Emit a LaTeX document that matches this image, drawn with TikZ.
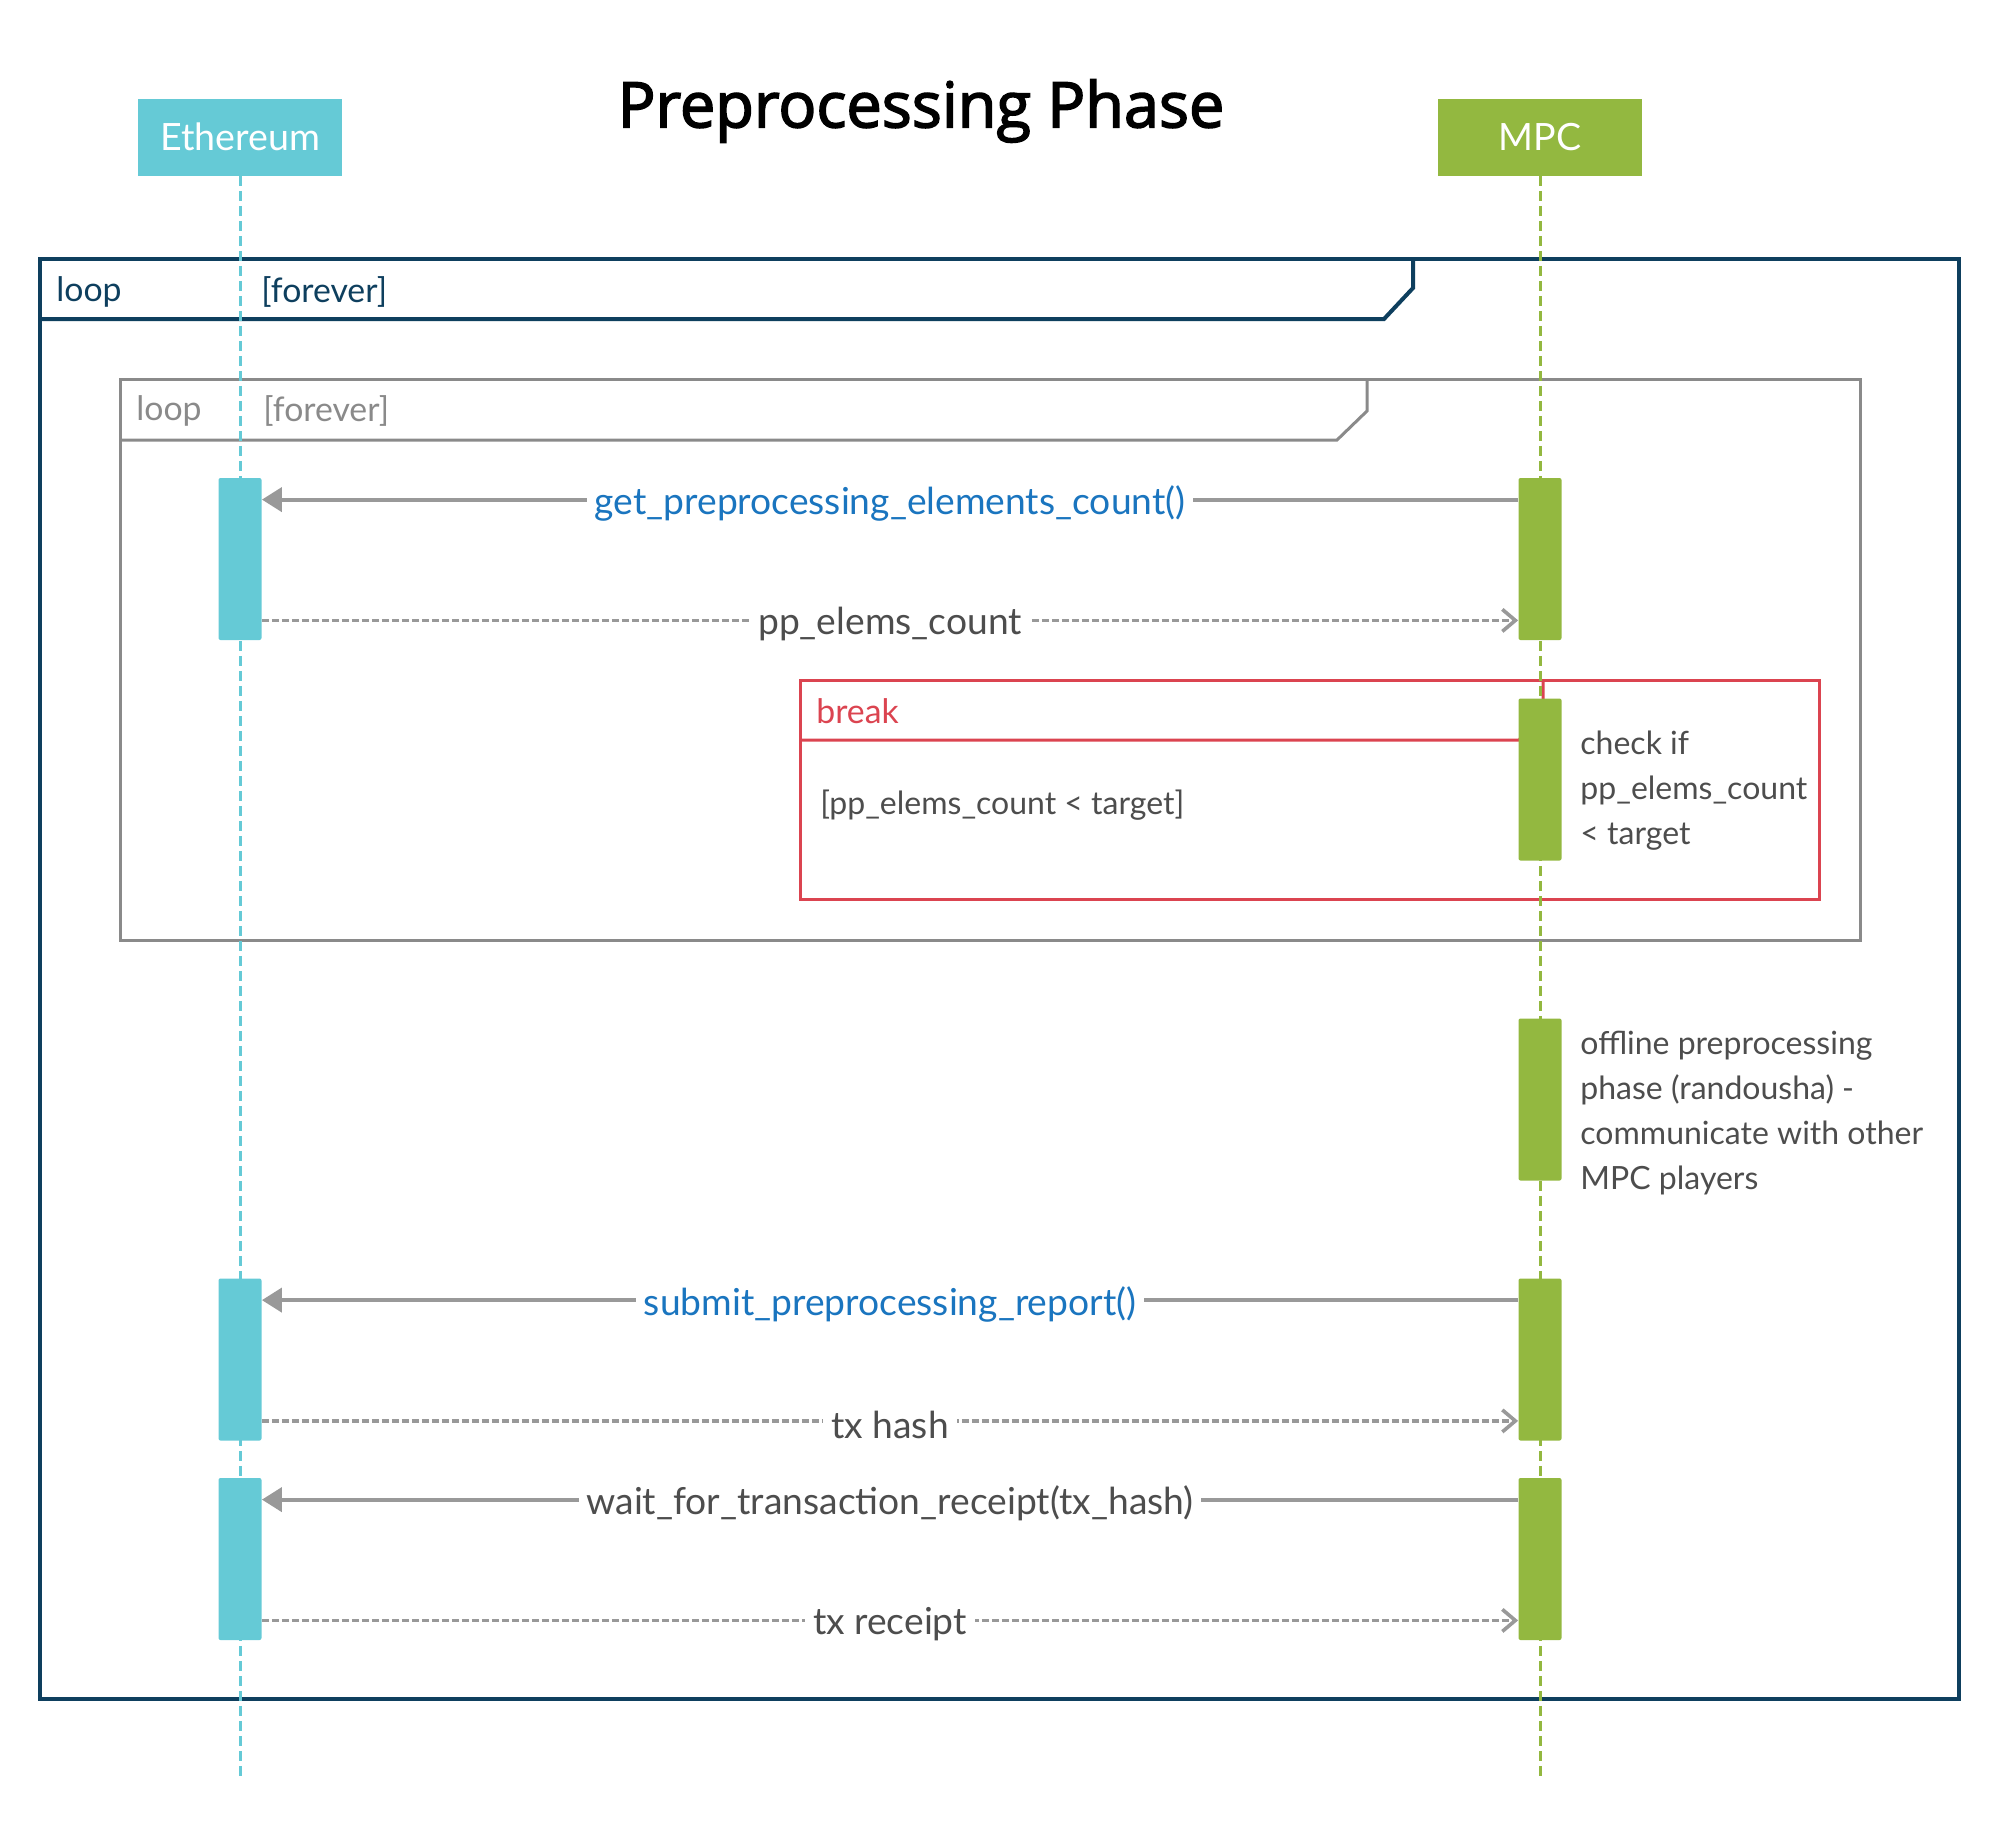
\documentclass[tikz,border=0pt]{standalone}
\usepackage{fontspec}
\setmainfont{Lato}
\newfontfamily\titlefont[FakeBold=2.5]{Open Sans}
\usetikzlibrary{arrows.meta,calc}
\definecolor{ethcol}{HTML}{65CAD6}
\definecolor{mpccol}{HTML}{93B840}
\definecolor{navy}{HTML}{0E3F5E}
\definecolor{framegrey}{HTML}{8A8A8A}
\definecolor{breakred}{HTML}{DB4450}
\definecolor{callblue}{HTML}{1A75BF}
\definecolor{txtgrey}{HTML}{4D4D4D}
\definecolor{arrgrey}{HTML}{999999}

\tikzset{
  head/.style={minimum width=102pt, minimum height=38.5pt, inner sep=0pt, text=white, font=\fontsize{18.8}{22}\selectfont},
  life/.style={line width=1.5pt, dash pattern=on 5pt off 2.5pt},
  actbar/.style={minimum width=21.5pt, minimum height=81pt, inner sep=0pt, rounded corners=1pt},
  call/.style={draw=arrgrey, line width=2pt, -{Triangle[length=10pt,width=12pt]}},
  reply/.style={draw=arrgrey, line width=1.8pt, dash pattern=on 3.5pt off 1.5pt, -{Straight Barb[length=6.5pt,width=11pt]}},
  msg/.style={fill=white, inner sep=4pt, yshift=-2pt, font=\fontsize{18.6}{22}\selectfont},
  note/.style={align=left, anchor=west, inner sep=0pt, text=txtgrey, font=\fontsize{16}{22.5}\selectfont},
  fraglabel/.style={anchor=west, inner sep=0pt, font=\fontsize{16.9}{20}\selectfont},
}

\begin{document}
\begin{tikzpicture}[x=0.5pt,y=-0.5pt]
        \useasboundingbox (0,0) rectangle (2000,1820);
        \node[font=\titlefont\fontsize{31.5}{36}\selectfont] (title) at (921,111) {Preprocessing Phase};

        % outer loop
        \draw[navy, line width=2pt] (40,259) rectangle (1959,1699);
        \draw[navy, line width=2pt] (40,319) -- (1384,319) -- (1413,288) -- (1413,259);
        \node[fraglabel, text=navy] (outerop) at (56,292) {loop};
        \node[fraglabel, text=navy] (outerguard) at (261,292) {[forever]};

        % inner loop
        \draw[framegrey, line width=1.5pt] (120,379) rectangle (1860,940);
        \draw[framegrey, line width=1.5pt] (120,440) -- (1337,440) -- (1367,411) -- (1367,379);
        \node[fraglabel, text=framegrey] (innerop) at (136,411) {loop};
        \node[fraglabel, text=framegrey] (innerguard) at (263,411) {[forever]};

        % break
        \draw[breakred, line width=1.5pt] (800,680) rectangle (1819,899);
        \draw[breakred, line width=1.5pt] (800,740) -- (1519,740) -- (1543,710) -- (1543,680);
        \node[fraglabel, text=breakred] (breakop) at (816,711) {break};
        \node[note] (guard) at (820,805) {[pp\_elems\_count < target]};

        % lifelines
        \node[head, fill=ethcol] (eth) at (240,137) {Ethereum};
        \node[head, fill=mpccol] (mpc) at (1540,137) {MPC};
        \coordinate (ethend) at (240,1776);
        \coordinate (mpcend) at (1540,1776);
        \draw[life, ethcol] (eth.south) -- (ethend);
        \draw[life, mpccol] (mpc.south) -- (mpcend);

        % activations
        \node[actbar, fill=ethcol] (e1) at (240,559) {};
        \node[actbar, fill=mpccol] (m1) at (1540,559) {};
        \node[actbar, fill=mpccol] (m2) at (1540,779.5) {};
        \node[actbar, fill=mpccol] (m3) at (1540,1099.5) {};
        \node[actbar, fill=ethcol] (e4) at (240,1359.5) {};
        \node[actbar, fill=mpccol] (m4) at (1540,1359.5) {};
        \node[actbar, fill=ethcol] (e5) at (240,1559) {};
        \node[actbar, fill=mpccol] (m5) at (1540,1559) {};

        % messages
        \draw[call] ($(m1.north west)+(0,22)$) -- ($(e1.north east)+(0,22)$)
          node[msg, midway, text=callblue] (getcnt) {get\_preprocessing\_elements\_count()};
        \draw[reply] ($(e1.south east)+(0,-20)$) -- ($(m1.south west)+(0,-20)$)
          node[msg, midway, text=txtgrey] (cnt) {pp\_elems\_count};
        \draw[call] ($(m4.north west)+(0,22)$) -- ($(e4.north east)+(0,22)$)
          node[msg, midway, text=callblue] (submit) {submit\_preprocessing\_report()};
        \draw[reply] ($(e4.south east)+(0,-20)$) -- ($(m4.south west)+(0,-20)$)
          node[msg, midway, text=txtgrey] (txhash) {tx hash};
        \draw[call] ($(m5.north west)+(0,22)$) -- ($(e5.north east)+(0,22)$)
          node[msg, midway, text=txtgrey] (waitrc) {wait\_for\_transaction\_receipt(tx\_hash)};
        \draw[reply] ($(e5.south east)+(0,-20)$) -- ($(m5.south west)+(0,-20)$)
          node[msg, midway, text=txtgrey] (txrc) {tx receipt};

        % notes
        \node[note] (chk) at (1580,791) {check if\\pp\_elems\_count\\< target};
        \node[note] (offl) at (1580,1113) {offline preprocessing\\phase (randousha) -\\communicate with other\\MPC players};
\end{tikzpicture}
\end{document}
